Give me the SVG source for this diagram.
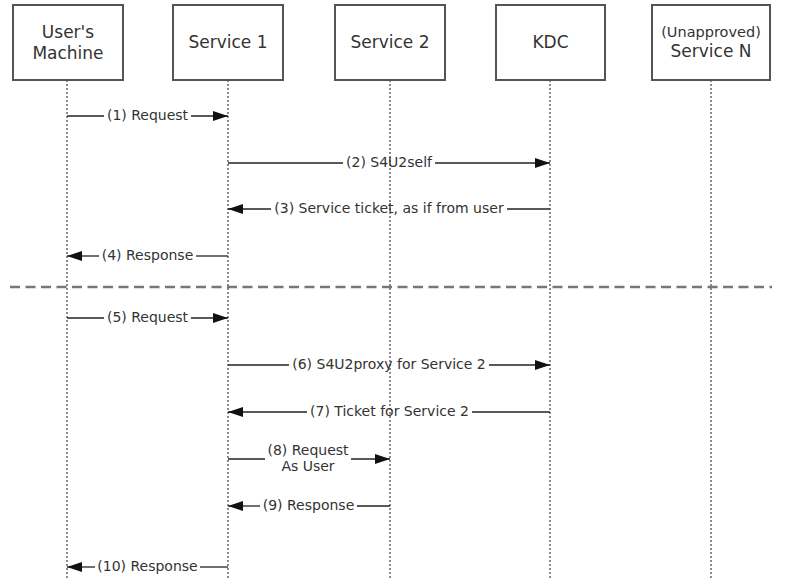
<svg xmlns="http://www.w3.org/2000/svg" width="808" height="588" viewBox="0 0 808 588">
<style>
.box{fill:#fff;stroke:#555;stroke-width:2}
.bt{font-family:"DejaVu Sans",Verdana,sans-serif;font-size:17px;fill:#333;text-anchor:middle}
.bs{font-size:14.5px}
.life{stroke:#666;stroke-width:1.5;stroke-dasharray:2,2;fill:none}
.sep{stroke:#777;stroke-width:2.5;stroke-dasharray:10,5.5;fill:none}
.msg{stroke:#222;stroke-width:1.3;fill:none}
.lt{font-family:"DejaVu Sans",Verdana,sans-serif;font-size:14px;fill:#333;text-anchor:middle}
</style>
<defs>
<marker id="ah" viewBox="0 0 15 10" refX="15" refY="5" markerWidth="15" markerHeight="10" markerUnits="userSpaceOnUse" orient="auto">
<path d="M0,0 L15,5 L0,10 z" fill="#111"/>
</marker>
</defs>
<g id="lifelines">
<line class="life" x1="67" y1="80" x2="67" y2="578"/>
<line class="life" x1="228" y1="80" x2="228" y2="578"/>
<line class="life" x1="390" y1="80" x2="390" y2="578"/>
<line class="life" x1="550" y1="80" x2="550" y2="578"/>
<line class="life" x1="711" y1="80" x2="711" y2="578"/>
</g>
<g id="user"><rect class="box" x="13" y="5" width="110" height="75"/><text class="bt" x="68" y="38">User's</text><text class="bt" x="68" y="59">Machine</text></g>
<g id="service1"><rect class="box" x="173" y="5" width="110" height="75"/><text class="bt" x="228" y="48">Service 1</text></g>
<g id="service2"><rect class="box" x="335" y="5" width="110" height="75"/><text class="bt" x="390" y="48">Service 2</text></g>
<g id="kdc"><rect class="box" x="496" y="5" width="109" height="75"/><text class="bt" x="550.5" y="48">KDC</text></g>
<g id="serviceN"><rect class="box" x="652" y="5" width="118" height="75"/><text class="bt bs" x="711" y="37">(Unapproved)</text><text class="bt" x="711" y="57">Service N</text></g>
<line class="sep" x1="10" y1="287" x2="772" y2="287"/>
<g id="connectors">
<line class="msg" x1="67" y1="116" x2="104" y2="116"/><line class="msg" x1="191" y1="116" x2="228" y2="116" marker-end="url(#ah)"/>
<text class="lt" x="147.5" y="120">(1) Request</text>
<line class="msg" x1="228" y1="163" x2="343" y2="163"/><line class="msg" x1="435" y1="163" x2="550" y2="163" marker-end="url(#ah)"/>
<text class="lt" x="389" y="167">(2) S4U2self</text>
<line class="msg" x1="550" y1="209" x2="507" y2="209"/><line class="msg" x1="271" y1="209" x2="228" y2="209" marker-end="url(#ah)"/>
<text class="lt" x="389" y="213">(3) Service ticket, as if from user</text>
<line class="msg" x1="228" y1="256" x2="196" y2="256"/><line class="msg" x1="99" y1="256" x2="67" y2="256" marker-end="url(#ah)"/>
<text class="lt" x="147.5" y="260">(4) Response</text>
<line class="msg" x1="67" y1="318" x2="104" y2="318"/><line class="msg" x1="191" y1="318" x2="228" y2="318" marker-end="url(#ah)"/>
<text class="lt" x="147.5" y="322">(5) Request</text>
<line class="msg" x1="228" y1="365" x2="289" y2="365"/><line class="msg" x1="489" y1="365" x2="550" y2="365" marker-end="url(#ah)"/>
<text class="lt" x="389" y="369">(6) S4U2proxy for Service 2</text>
<line class="msg" x1="550" y1="412" x2="472" y2="412"/><line class="msg" x1="307" y1="412" x2="228" y2="412" marker-end="url(#ah)"/>
<text class="lt" x="389.5" y="416">(7) Ticket for Service 2</text>
<line class="msg" x1="228" y1="459" x2="265" y2="459"/><line class="msg" x1="351" y1="459" x2="390" y2="459" marker-end="url(#ah)"/>
<text class="lt" x="308" y="455">(8) Request</text><text class="lt" x="308" y="471">As User</text>
<line class="msg" x1="390" y1="506" x2="357" y2="506"/><line class="msg" x1="260" y1="506" x2="228" y2="506" marker-end="url(#ah)"/>
<text class="lt" x="308.5" y="510">(9) Response</text>
<line class="msg" x1="228" y1="567" x2="200" y2="567"/><line class="msg" x1="95" y1="567" x2="67" y2="567" marker-end="url(#ah)"/>
<text class="lt" x="147.5" y="571">(10) Response</text>
</g>
</svg>
